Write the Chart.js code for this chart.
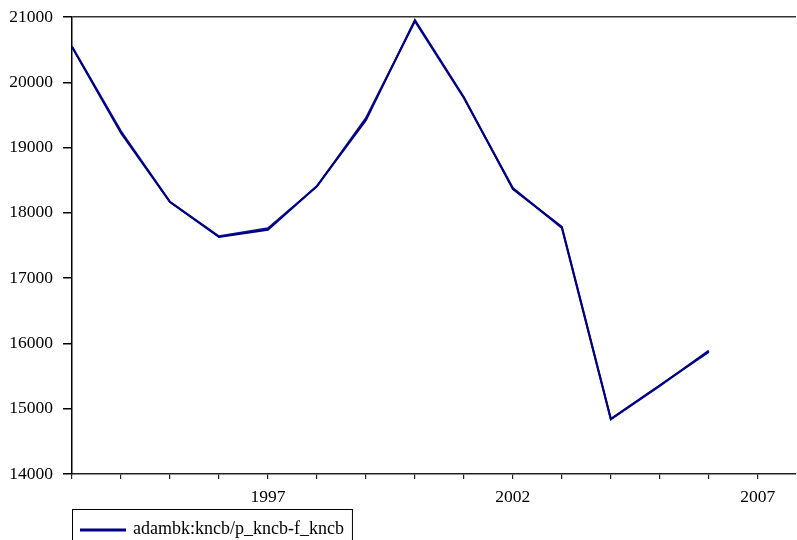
<!DOCTYPE html>
<html>
<head>
<meta charset="utf-8">
<script src="https://cdn.jsdelivr.net/npm/chart.js@4/dist/chart.umd.min.js"></script>
<style>
  html, body { margin: 0; padding: 0; background: #ffffff; }
  #wrap { width: 797px; height: 540px; position: relative; }
</style>
</head>
<body>
<div id="wrap"><canvas id="c" width="797" height="540"></canvas></div>
<script>
// Yearly observations
const years = [1993, 1994, 1995, 1996, 1997, 1998, 1999, 2000, 2001, 2002, 2003, 2004, 2005, 2006];
// Actual values (p_kncb)
const seriesP = [20540, 19225, 18165, 17630, 17740, 18410, 19420, 20955, 19770, 18365, 17785, 14845, 15360, 15870];
// Fitted values (f_kncb), plotted underneath
const seriesF = [20550, 19250, 18170, 17640, 17765, 18405, 19450, 20935, 19760, 18380, 17770, 14835, 15350, 15890];
const seriesLabel = 'adambk:kncb/p_kncb-f_kncb';
const yTicks = [14000, 15000, 16000, 17000, 18000, 19000, 20000, 21000];
const xLabelYears = [1997, 2002, 2007];

const FONT = 'Liberation Serif, Times New Roman, serif';

const toPts = (vals) => years.map((y, i) => ({ x: y, y: vals[i] }));

// Boxed legend underneath the x axis
const boxLegend = {
  id: 'boxLegend',
  afterDraw(chart) {
    const ctx = chart.ctx;
    const ds = chart.data.datasets[0];
    const left = chart.chartArea.left;
    const top = 509;
    ctx.save();
    ctx.font = '18px ' + FONT;
    const tw = ctx.measureText(ds.label).width;
    const w = 61 + tw + 8;
    ctx.strokeStyle = '#000';
    ctx.lineWidth = 1;
    ctx.strokeRect(left + 0.5, top + 0.5, w, 40);
    ctx.strokeStyle = ds.borderColor;
    ctx.lineWidth = 3;
    ctx.beginPath();
    ctx.moveTo(left + 8, 530);
    ctx.lineTo(left + 54, 530);
    ctx.stroke();
    ctx.fillStyle = '#000';
    ctx.textBaseline = 'middle';
    ctx.fillText(ds.label, left + 61, 529);
    ctx.restore();
  }
};

new Chart(document.getElementById('c'), {
  type: 'line',
  data: {
    datasets: [
      {
        label: seriesLabel,
        data: toPts(seriesP),
        borderColor: '#000080',
        borderWidth: 2,
        pointRadius: 0,
        tension: 0,
        fill: false
      },
      {
        label: '',
        data: toPts(seriesF),
        borderColor: '#10109a',
        borderWidth: 2,
        pointRadius: 0,
        tension: 0,
        fill: false
      }
    ]
  },
  options: {
    responsive: false,
    animation: false,
    layout: { padding: { top: 17, right: 1, left: 0, bottom: 0 } },
    plugins: {
      legend: { display: false },
      tooltip: { enabled: false }
    },
    scales: {
      x: {
        type: 'linear',
        min: 1993,
        max: 2007.78,
        afterBuildTicks(scale) {
          const t = [];
          for (let y = 1993; y <= 2007; y++) t.push({ value: y });
          scale.ticks = t;
        },
        afterFit(scale) {
          scale.height = 66;
          scale.paddingLeft = 0;
          scale.paddingRight = 0;
        },
        border: { display: true, color: '#222', width: 1.5 },
        grid: {
          drawOnChartArea: false,
          drawTicks: true,
          tickLength: 5,
          tickColor: '#222',
          lineWidth: 1.2
        },
        ticks: {
          autoSkip: false,
          maxRotation: 0,
          padding: 8,
          color: '#000',
          font: { family: FONT, size: 17.5 },
          callback: (v) => (xLabelYears.includes(v) ? String(v) : '')
        }
      },
      y: {
        min: 14000,
        max: 21000,
        afterBuildTicks(scale) {
          scale.ticks = yTicks.map((v) => ({ value: v }));
        },
        afterFit(scale) {
          scale.width = 72;
          scale.paddingTop = 0;
          scale.paddingBottom = 0;
        },
        border: { display: true, color: '#000', width: 1.5 },
        grid: {
          drawOnChartArea: true,
          drawTicks: true,
          tickLength: 9,
          tickColor: '#000',
          lineWidth: 1.5,
          color: (c) => (c.tick && c.tick.value === 21000 ? '#333' : 'rgba(0,0,0,0)')
        },
        ticks: {
          padding: 10,
          color: '#000',
          font: { family: FONT, size: 17.5 },
          callback: (v) => String(v)
        }
      }
    }
  },
  plugins: [boxLegend]
});
</script>
</body>
</html>
